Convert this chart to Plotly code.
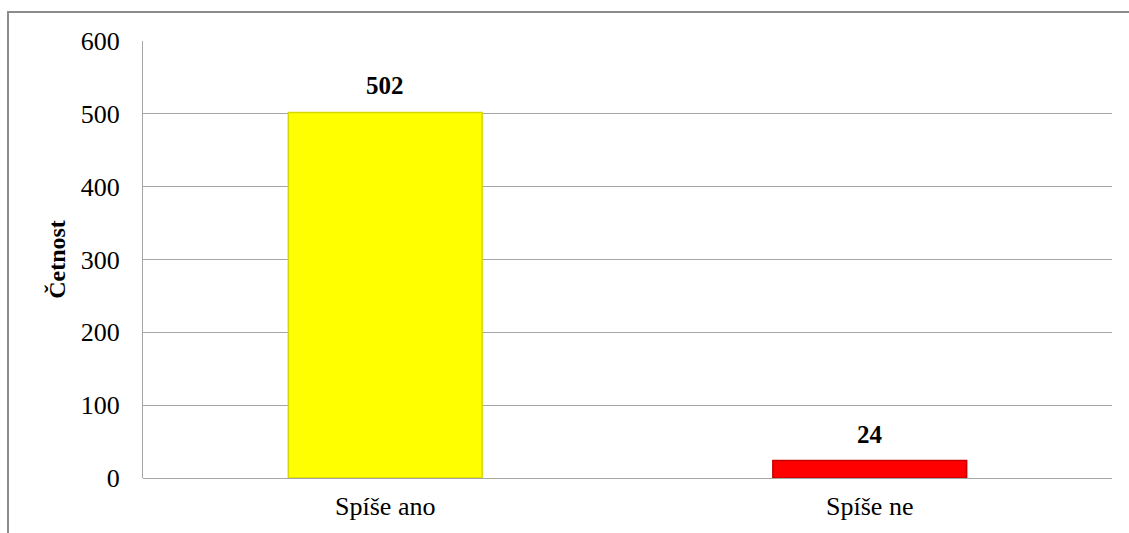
import plotly.graph_objects as go

categories = ["Spíše ano", "Spíše ne"]
values = [502, 24]
colors = ["#FFFF00", "#FF0000"]
edge_colors = ["#D6D600", "#C40000"]
y_ticks = [0, 100, 200, 300, 400, 500, 600]

W, H = 1129, 533
L, R, T, B = 143, 17, 41, 55
SERIF = "Liberation Serif, Times New Roman, serif"

fig = go.Figure(go.Bar(
    x=categories, y=values,
    marker=dict(color=colors, line=dict(color=edge_colors, width=1.5)),
    cliponaxis=False,
))

for c, v in zip(categories, values):
    fig.add_annotation(x=c, y=v, text=f"<b>{v}</b>", showarrow=False,
                       yanchor="bottom", yshift=11,
                       font=dict(family=SERIF, size=25, color="black"))

pw = W - L - R
ph = H - T - B
fig.add_shape(type="rect", xref="paper", yref="paper",
              x0=(8 - L) / pw, x1=(W + 10 - L) / pw,
              y0=-(B + 10) / ph, y1=(H - 12 - B) / ph,
              line=dict(color="#8C8C8C", width=2), fillcolor="rgba(0,0,0,0)", layer="below")

fig.update_layout(
    width=W, height=H,
    margin=dict(l=L, r=R, t=T, b=B),
    paper_bgcolor="white", plot_bgcolor="white",
    bargap=0.6, showlegend=False,
    font=dict(family=SERIF, color="black"),
    xaxis=dict(showgrid=False, showline=False, ticks="",
               tickfont=dict(family=SERIF, size=26, color="black"),
               ticklabelstandoff=10),
    yaxis=dict(range=[0, 600], tickvals=y_ticks, showgrid=True, gridcolor="#A6A6A6",
               gridwidth=1, zeroline=True, zerolinecolor="#A6A6A6", zerolinewidth=1,
               showline=True, linecolor="#A6A6A6", linewidth=1,
               tickfont=dict(family=SERIF, size=26, color="black"), ticklabelstandoff=17,
               title=dict(text="<b>Četnost</b>", font=dict(family=SERIF, size=24, color="black"),
                          standoff=8)),
)

fig.write_html("out.html")
